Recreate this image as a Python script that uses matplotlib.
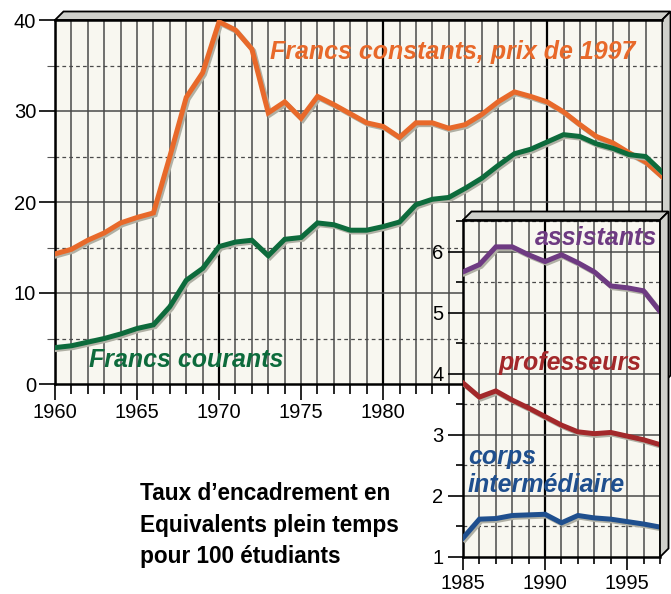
import matplotlib

matplotlib.use("Agg")
import matplotlib.pyplot as plt  # noqa: E402
import matplotlib.patheffects as pe  # noqa: E402
from matplotlib.patches import Polygon  # noqa: E402

# --- data ---
YEARS = list(range(1960, 1998))
FRANCS_CONSTANTS = [
    14.3, 14.8, 15.8, 16.6, 17.7, 18.3, 18.8, 25.0, 31.5, 34.2,
    39.8, 38.9, 36.8, 29.8, 31.0, 29.2, 31.6, 30.7, 29.7, 28.7,
    28.3, 27.1, 28.7, 28.7, 28.1, 28.5, 29.6, 31.0, 32.1, 31.6,
    31.0, 29.9, 28.5, 27.2, 26.5, 25.4, 24.4, 22.8,
]
FRANCS_COURANTS = [
    4.0, 4.2, 4.6, 5.0, 5.5, 6.1, 6.5, 8.5, 11.4, 12.7,
    15.1, 15.6, 15.8, 14.1, 15.9, 16.1, 17.7, 17.5, 16.9, 16.9,
    17.3, 17.8, 19.7, 20.3, 20.5, 21.5, 22.6, 24.0, 25.3, 25.8,
    26.6, 27.4, 27.2, 26.4, 25.9, 25.2, 25.0, 23.3,
]

INSET_YEARS = list(range(1985, 1998))
ASSISTANTS = [5.67, 5.79, 6.08, 6.08, 5.95, 5.84, 5.95, 5.82, 5.67, 5.44, 5.41, 5.36, 5.02]
PROFESSEURS = [3.85, 3.62, 3.72, 3.57, 3.44, 3.30, 3.16, 3.05, 3.02, 3.04, 2.98, 2.92, 2.84]
CORPS_INTER = [1.31, 1.62, 1.63, 1.68, 1.69, 1.70, 1.56, 1.68, 1.64, 1.62, 1.58, 1.54, 1.49]

MAIN_XTICKS = [1960, 1965, 1970, 1975, 1980]
MAIN_YTICKS = [0, 10, 20, 30, 40]
INSET_XTICKS = [1985, 1990, 1995]
INSET_YTICKS = [1, 2, 3, 4, 5, 6]

TITLE_LINES = ["Taux d\u2019encadrement en", "Equivalents plein temps", "pour 100 étudiants"]

# --- style ---
W, H = 671, 594
CREAM = "#f8f7f0"
GRID = "#4a4a4a"
BEVEL = "#cfd0cb"
ORANGE = "#e8692a"
GREEN = "#0d6b3c"
PURPLE = "#6e3a82"
RED = "#a3282a"
BLUE = "#1f4f8e"
TICK_FONT = {"family": "Liberation Sans", "size": 14.5}
LABEL_FONT = dict(family="Liberation Sans", weight="bold", style="italic", fontsize=18)

plt.rcParams["font.family"] = ["Liberation Sans", "DejaVu Sans"]

fig = plt.figure(figsize=(W / 100, H / 100), dpi=100)
fig.patch.set_facecolor("white")


def px_rect(left, top, right, bottom):
    return [left / W, 1 - bottom / H, (right - left) / W, (bottom - top) / H]


def bevel(left, top, right, bottom, depth, zorder):
    """3-D frame: slanted band on top and on the right of an axes box."""
    pts_top = [(left, top), (left + depth, top - depth), (right + depth, top - depth), (right, top)]
    pts_right = [(right, top), (right + depth, top - depth), (right + depth, bottom - depth), (right, bottom)]
    for pts in (pts_top, pts_right):
        poly = Polygon([(x / W, 1 - y / H) for x, y in pts], closed=True,
                       transform=fig.transFigure, facecolor=BEVEL, edgecolor="black",
                       lw=1.3, zorder=zorder)
        fig.patches.append(poly)


def shadow_line(ax, x, y, color, lw=3.6):
    ax.plot(x, y, color=color, lw=lw, solid_joinstyle="miter", zorder=5,
            path_effects=[pe.SimpleLineShadow(offset=(1.3, -1.3), shadow_color="#b0b0a4", alpha=1),
                          pe.Normal()])


def style_grid(ax, years, y_major, y_minor):
    ax.set_facecolor(CREAM)
    for yr in years:
        dark = yr % 10 == 0
        ax.axvline(yr, color="black" if dark else GRID, lw=1.6 if dark else 1.1, zorder=1)
    for v in y_major:
        ax.axhline(v, color=GRID, lw=1.1, zorder=1)
    for v in y_minor:
        ax.axhline(v, color=GRID, lw=0.9, ls=(0, (3, 2.5)), zorder=1)
    for side in ("left", "bottom", "top"):
        ax.spines[side].set_linewidth(1.8)
    ax.spines["right"].set_visible(False)
    ax.tick_params(which="both", direction="out", width=1.2, color="black")


# --- main chart ---
ax = fig.add_axes(px_rect(55, 20, 662, 384))
ax.set_xlim(1960, 1997)
ax.set_ylim(0, 40)
style_grid(ax, YEARS, [10, 20, 30], [5, 15, 25, 35])
ax.set_xticks(MAIN_XTICKS)
ax.set_xticks(YEARS, minor=True)
ax.set_yticks(MAIN_YTICKS)
ax.set_yticks([5, 15, 25, 35], minor=True)
ax.tick_params(which="major", length=11.5, pad=2, labelsize=TICK_FONT["size"])
ax.tick_params(axis="x", which="minor", length=7)
ax.tick_params(axis="y", which="minor", length=6, width=0.8, color="#555")
for lab in ax.get_xticklabels() + ax.get_yticklabels():
    lab.set_family(TICK_FONT["family"])

shadow_line(ax, YEARS, FRANCS_CONSTANTS, ORANGE)
shadow_line(ax, YEARS, FRANCS_COURANTS, GREEN)
ax.text(1973.1, 36.5, "Francs constants, prix de 1997", color=ORANGE, va="center",
        ha="left", zorder=6, **LABEL_FONT)
ax.text(1962.1, 2.6, "Francs courants", color=GREEN, va="center", ha="left",
        zorder=6, **LABEL_FONT)
bevel(55, 20, 662, 384, 8.5, zorder=-1)

# --- inset: 1985-1997 by staff category ---
ax2 = fig.add_axes(px_rect(463, 220, 660, 557))
ax2.set_xlim(1985, 1997)
ax2.set_ylim(1, 6.52)
style_grid(ax2, INSET_YEARS, [2, 3, 4, 5, 6], [1.5, 2.5, 3.5, 4.5, 5.5, 6.5])
ax2.set_xticks(INSET_XTICKS)
ax2.set_xticks(INSET_YEARS, minor=True)
ax2.set_yticks(INSET_YTICKS)
ax2.set_yticks([1.5, 2.5, 3.5, 4.5, 5.5, 6.5], minor=True)
ax2.tick_params(which="major", length=9, pad=3, labelsize=TICK_FONT["size"])
ax2.tick_params(axis="y", which="major", length=11)
ax2.tick_params(which="minor", length=5)
for lab in ax2.get_xticklabels() + ax2.get_yticklabels():
    lab.set_family(TICK_FONT["family"])

shadow_line(ax2, INSET_YEARS, ASSISTANTS, PURPLE)
shadow_line(ax2, INSET_YEARS, PROFESSEURS, RED)
shadow_line(ax2, INSET_YEARS, CORPS_INTER, BLUE)
ax2.text(1996.8, 6.23, "assistants", color=PURPLE, va="center", ha="right", zorder=6, **LABEL_FONT)
ax2.text(1995.9, 4.18, "professeurs", color=RED, va="center", ha="right", zorder=6, **LABEL_FONT)
ax2.text(1985.3, 2.64, "corps", color=BLUE, va="center", ha="left", zorder=6, **LABEL_FONT)
ax2.text(1985.3, 2.18, "intermédiaire", color=BLUE, va="center", ha="left", zorder=6, **LABEL_FONT)
bevel(463, 220, 660, 557, 8.5, zorder=2)

# --- caption ---
for line, base in zip(TITLE_LINES, [500, 532, 563]):
    fig.text(140 / W, 1 - base / H, line, ha="left", va="baseline", fontsize=16.3,
             fontweight="bold", family="Liberation Sans")

fig.savefig("out.png", dpi=100, facecolor="white")
